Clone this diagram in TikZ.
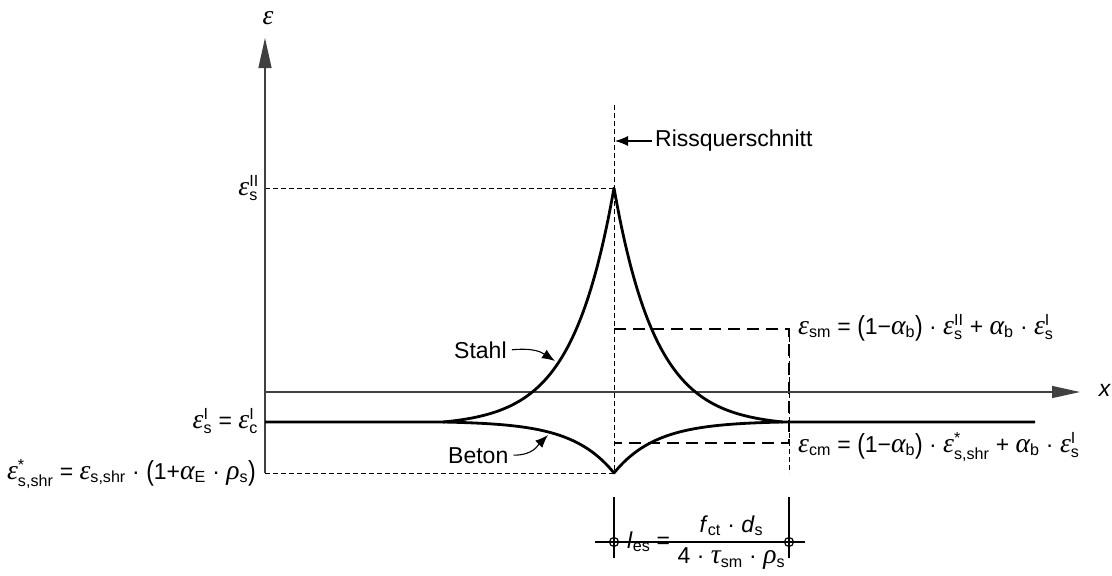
\documentclass[tikz,border=0pt]{standalone}
\usepackage{fix-cm}
\usepackage{amsmath}
\usepackage{graphicx}
\usepackage{fontspec}
\setmainfont{Liberation Sans}
\newfontfamily\grk{Liberation Serif}[Scale=1.2]
\usetikzlibrary{arrows.meta}
\newcommand\ep{{\grk\itshape ε}}
\newcommand\al{{\grk\itshape α}}
\newcommand\ta{{\grk\itshape τ}}
\newcommand\rh{{\grk\itshape ρ}}
\newcommand\iv[1]{\textit{#1}}
\newcommand\SB[2]{#1$_{\text{#2}}$}
\newcommand\SBP[3]{#1$_{\text{#2}}^{\text{#3}}$}
\newcommand\LP{\raisebox{-0.06em}{\scalebox{1}[1.2]{(}}}
\newcommand\RP{\raisebox{-0.06em}{\scalebox{1}[1.2]{)}}}
\begin{document}
\begin{tikzpicture}[x=1pt,y=-1pt,
  every node/.style={inner sep=0pt,font=\fontsize{23}{27}\selectfont},
  axis/.style={line width=1.3pt,draw=black!75},
  curve/.style={line width=2.8pt,line join=round},
  thindash/.style={line width=1pt,dash pattern=on 5pt off 3pt},
  longdash/.style={line width=1.4pt,dash pattern=on 12pt off 7pt},
  dimline/.style={line width=1.2pt},
  ptr/.style={line width=1.1pt,-{Latex[length=13pt,width=10pt]}}]
\useasboundingbox (0,0) rectangle (1112,576);
% key points
\coordinate (O) at (265,473);
\coordinate (Ytop) at (265,38);
\coordinate (X0) at (265,392);
\coordinate (Xend) at (1080,392);
\coordinate (Ctop) at (614,105);
\coordinate (Cs) at (614,188);
\coordinate (Cb) at (614,473);
\coordinate (L0) at (265,422);
\coordinate (Ls) at (443,422);
\coordinate (Rs) at (783,422);
\coordinate (Lend) at (1035,422);
\coordinate (Es) at (265,188);
\coordinate (SmL) at (614,329);
\coordinate (SmR) at (789,329);
\coordinate (CmL) at (614,443);
\coordinate (CmR) at (789,443);
\coordinate (Rb) at (789,473);
\coordinate (D1t) at (614,497);
\coordinate (D1b) at (614,558);
\coordinate (D2t) at (789,497);
\coordinate (D2b) at (789,558);
\coordinate (DL) at (595,542);
\coordinate (DR) at (805,542);
\coordinate (K1) at (614,542);
\coordinate (K2) at (789,542);
% dashed helper lines
\draw[thindash] (Es) -- (Cs);
\draw[thindash] (Ctop) -- (Cb);
\draw[thindash] (O) -- (Cb);
\draw[thindash] (SmR) -- (Rb);
\draw[longdash] (SmL) -- (SmR) -- (CmR) -- (CmL);
% axes
\draw[axis,-{Triangle[length=30pt,width=13pt]}] (O) -- (Ytop);
\draw[axis,-{Triangle[length=28pt,width=12pt]}] (X0) -- (Xend);
% steel
\draw[curve] (L0) -- (Ls)
  -- plot[domain=443:614,samples=90] (\x,{422-234*(exp(-(614-\x)/42)-0.01706)/(1-0.01706)})
  -- plot[domain=614:783,samples=90] (\x,{422-234*(exp(-(\x-614)/42)-0.01789)/(1-0.01789)})
  -- (Lend);
% concrete
\draw[curve] plot[domain=443:614,samples=90] (\x,{422+51*(exp(-(614-\x)/42)-0.01706)/(1-0.01706)})
  -- plot[domain=614:783,samples=90] (\x,{422+51*(exp(-(\x-614)/42)-0.01789)/(1-0.01789)});
% dimension
\draw[dimline] (D1t) -- (D1b);
\draw[dimline] (D2t) -- (D2b);
\draw[dimline] (DL) -- (DR);
\draw[dimline] (K1) circle (4.5);
\draw[dimline] (K2) circle (4.5);
% labels
\node (eps) at (268,18) {\ep};
\node (xl) at (1105,390) {\iv{x}};
\node[anchor=base east] (esII) at (259,195) {\SBP{\ep}{s}{II}};
\node[anchor=base east] (esI) at (258,428) {\SBP{\ep}{s}{I} = \SBP{\ep}{c}{I}};
\node[anchor=base east] (eshr) at (256,479) {\SBP{\ep}{s,shr}{*} = \SB{\ep}{s,shr} · \LP1+\SB{\al}{E} · \SB{\rh}{s}\RP};
\node[anchor=base west] (esm) at (798,334) {\SB{\ep}{sm} = \LP1−\SB{\al}{b}\RP{} · \SBP{\ep}{s}{II} + \SB{\al}{b} · \SBP{\ep}{s}{I}};
\node[anchor=base west] (ecm) at (798,452) {\SB{\ep}{cm} = \LP1−\SB{\al}{b}\RP{} · \SBP{\ep}{s,shr}{*} + \SB{\al}{b} · \SBP{\ep}{s}{I}};
\node[anchor=base west] (les) at (627,548) {\SB{\iv{l}}{es} = $\dfrac{\text{\SB{\iv{f}}{ct} · \SB{\iv{d}}{s}}}{\text{4 · \SB{\ta}{sm} · \SB{\rh}{s}}}$};
\node[anchor=west,inner xsep=3pt] (rq) at (652,141) {Rissquerschnitt};
\coordinate (RqTip) at (615,141);
\draw[ptr] (rq.west) -- (RqTip);
\node[anchor=base west] (stahl) at (454,358) {Stahl};
\coordinate (StTip) at (555,361);
\draw[ptr] ([xshift=5pt]stahl.east) .. controls +(22,-2) and +(-14,-9) .. (StTip);
\node[anchor=base west] (beton) at (448,463) {Beton};
\coordinate (BeTip) at (548,435);
\draw[ptr] ([xshift=5pt]beton.east) .. controls +(20,0) and +(-10,10) .. (BeTip);
\end{tikzpicture}
\end{document}
